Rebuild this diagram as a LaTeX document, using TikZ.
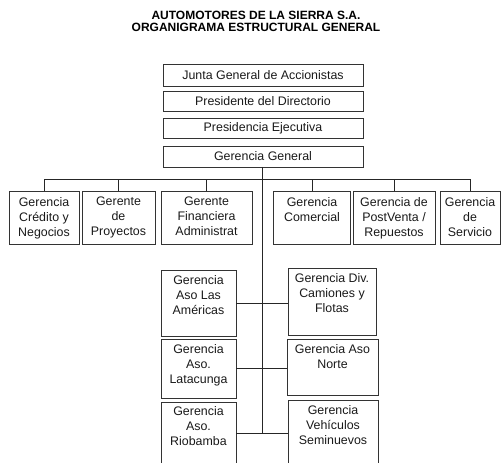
\documentclass[tikz,border=0pt]{standalone}
\usepackage{fontspec}
\setmainfont{Liberation Sans}
\begin{document}
\begin{tikzpicture}[x=1pt,y=-1pt,
  box/.style={draw=black!80, line width=0.9pt, rectangle, inner sep=0pt},
  txt/.style={font=\fontsize{12.4}{15}\selectfont, align=center, inner sep=0pt, text=black!90},
  conn/.style={draw=black!85, line width=0.9pt}]
\useasboundingbox (0,0) rectangle (502,462);
\clip (0,0) rectangle (502,462);

% title
\node[font=\fontsize{12}{12}\selectfont\bfseries, align=center, inner sep=0pt] (title) at (256,21)
  {AUTOMOTORES DE LA SIERRA S.A.\\ORGANIGRAMA ESTRUCTURAL GENERAL};

% top column
\node[box, minimum width=200pt, minimum height=22pt] (junta) at (263,75) {};
\node[box, minimum width=200pt, minimum height=20pt] (pdir) at (263,101) {};
\node[box, minimum width=200pt, minimum height=20pt] (pejec) at (263,128) {};
\node[box, minimum width=200pt, minimum height=21pt] (gg) at (263,156.5) {};
\node[txt] at (junta.center) {Junta General de Accionistas};
\node[txt] at (pdir.center) {Presidente del Directorio};
\node[txt] at (pejec.center) {Presidencia Ejecutiva};
\node[txt] at (gg.center) {Gerencia General};

% upper row
\node[box, minimum width=70pt, minimum height=53pt] (cred) at (44,217.5) {};
\node[box, minimum width=73pt, minimum height=53pt] (proy) at (118.5,217.5) {};
\node[box, minimum width=91pt, minimum height=53pt] (fin) at (206.5,217.5) {};
\node[box, minimum width=77pt, minimum height=53pt] (com) at (312,217.5) {};
\node[box, minimum width=82pt, minimum height=53pt] (post) at (394,217.5) {};
\node[box, minimum width=60pt, minimum height=53pt] (serv) at (470,217.5) {};
\node[txt, anchor=north] at ([yshift=-6.5pt]cred.north) {Gerencia\\Crédito y\\Negocios};
\node[txt, anchor=north] at ([yshift=-6.5pt]proy.north) {Gerente\\de\\Proyectos};
\node[txt, anchor=north] at ([yshift=-6.5pt]fin.north) {Gerente\\Financiera\\Administrat};
\node[txt, anchor=north] at ([yshift=-6.5pt]com.north) {Gerencia\\Comercial};
\node[txt, anchor=north] at ([yshift=-6.5pt]post.north) {Gerencia de\\PostVenta /\\Repuestos};
\node[txt, anchor=north] at ([yshift=-6.5pt]serv.north) {Gerencia\\de\\Servicio};

% lower boxes
\node[box, minimum width=75pt, minimum height=66pt] (amer) at (198.5,303) {};
\node[box, minimum width=75pt, minimum height=59pt] (lata) at (198.5,368.5) {};
\node[box, minimum width=75pt, minimum height=62pt] (rio) at (198.5,433) {};
\node[box, minimum width=88pt, minimum height=67pt] (cam) at (332,301.5) {};
\node[box, minimum width=91pt, minimum height=56pt] (norte) at (332.5,367) {};
\node[box, minimum width=90pt, minimum height=66pt] (semi) at (333,433) {};
\node[txt, anchor=north] at ([yshift=-5.5pt]amer.north) {Gerencia\\Aso Las\\Américas};
\node[txt, anchor=north] at ([yshift=-5.5pt]lata.north) {Gerencia\\Aso.\\Latacunga};
\node[txt, anchor=north] at ([yshift=-5pt]rio.north) {Gerencia\\Aso.\\Riobamba};
\node[txt, anchor=north] at ([yshift=-5.5pt]cam.north) {Gerencia Div.\\Camiones y\\Flotas};
\node[txt, anchor=north] at ([yshift=-5.5pt]norte.north) {Gerencia Aso\\Norte};
\node[txt, anchor=north] at ([yshift=-6pt]semi.north) {Gerencia\\Vehículos\\Seminuevos};

% connectors
\coordinate (busy) at (0,179);
\coordinate (trunktop) at (262,167);
\draw[conn] (cred.north) |- (busy -| serv.north) -- (serv.north);
\foreach \n in {proy,fin,com,post} \draw[conn] (\n.north) -- (\n.north |- busy);
\draw[conn] (trunktop) -- (trunktop |- rio.east);
\draw[conn] (amer.east) -- (amer.east -| cam.west);
\draw[conn] (lata.east) -- (lata.east -| norte.west);
\draw[conn] (rio.east) -- (rio.east -| semi.west);
\end{tikzpicture}
\end{document}
